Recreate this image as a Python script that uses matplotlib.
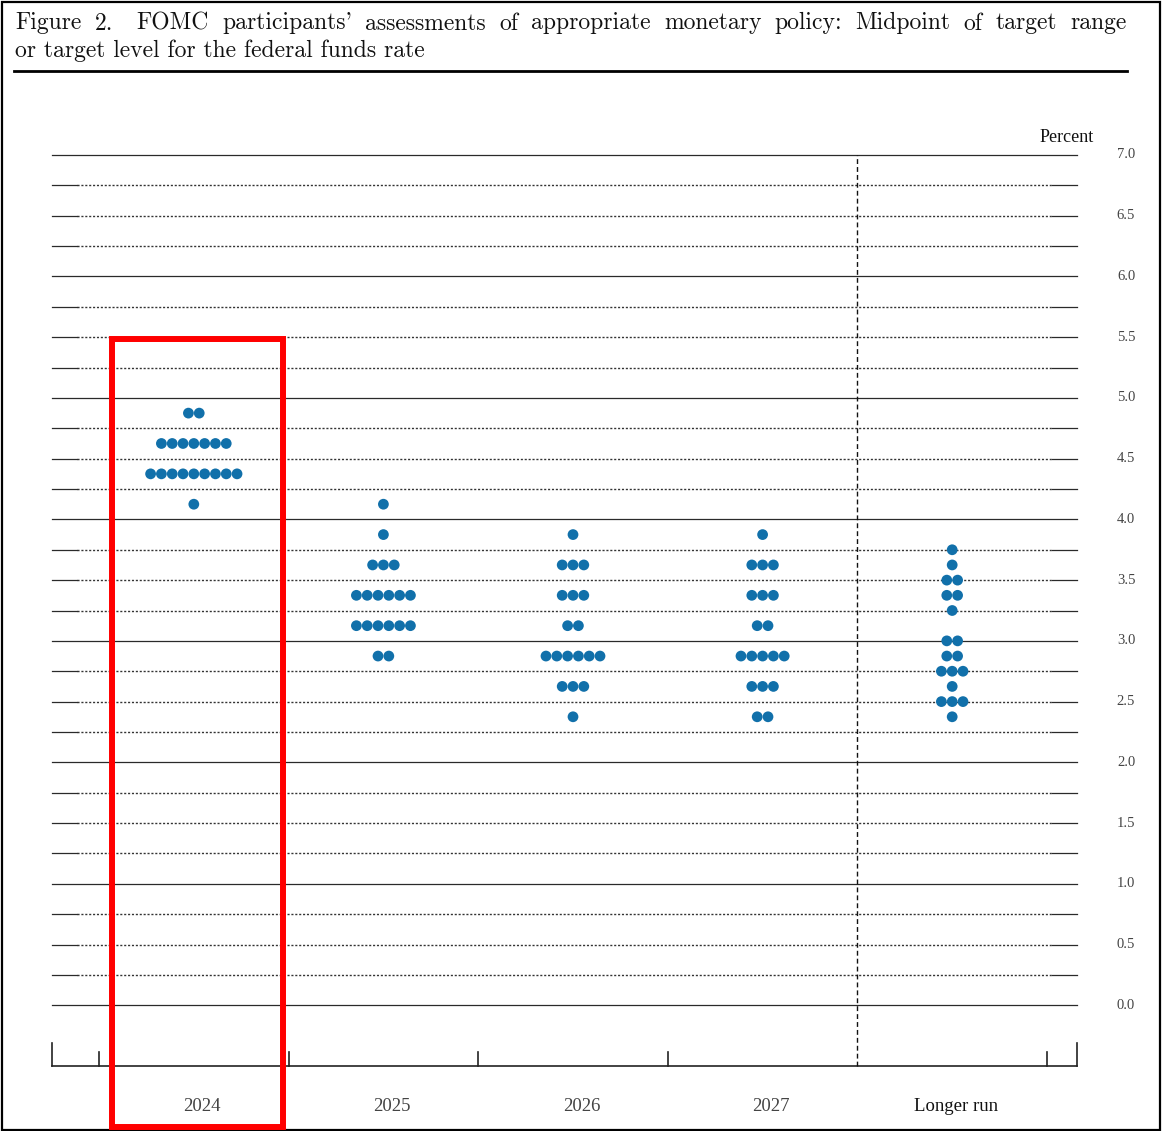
import numpy as np
import matplotlib
matplotlib.use('Agg')
import matplotlib.pyplot as plt
from matplotlib.patches import Rectangle
from matplotlib.lines import Line2D

# dot plot data: for each column, (rate midpoint, number of participants)
categories = ['2024', '2025', '2026', '2027', 'Longer run']
levels_2024 = [4.875, 4.625, 4.375, 4.125]
counts_2024 = [2, 7, 9, 1]
levels_2025 = [4.125, 3.875, 3.625, 3.375, 3.125, 2.875]
counts_2025 = [1, 1, 3, 6, 6, 2]
levels_2026 = [3.875, 3.625, 3.375, 3.125, 2.875, 2.625, 2.375]
counts_2026 = [1, 3, 3, 2, 6, 3, 1]
levels_2027 = [3.875, 3.625, 3.375, 3.125, 2.875, 2.625, 2.375]
counts_2027 = [1, 3, 3, 2, 5, 3, 2]
levels_lr = [3.75, 3.625, 3.5, 3.375, 3.25, 3.0, 2.875, 2.75, 2.625, 2.5, 2.375]
counts_lr = [1, 1, 2, 2, 1, 2, 2, 3, 1, 3, 1]
yticks = np.arange(0, 7.01, 0.5)

all_levels = [levels_2024, levels_2025, levels_2026, levels_2027, levels_lr]
all_counts = [counts_2024, counts_2025, counts_2026, counts_2027, counts_lr]

W, H = 1164, 1131
fig = plt.figure(figsize=(W / 100, H / 100), dpi=100)
fig.patch.set_facecolor('white')

# axes box in pixels: x 52..1077, y 155 (7.0) .. 1066 (-0.5)
ax = fig.add_axes([52 / W, (H - 1066) / H, 1025 / W, (1066 - 155) / H])
x0 = 0.5 - 47 / 189.5
x1 = 5.5 + 30 / 189.5
ax.set_xlim(x0, x1)
ax.set_ylim(-0.5, 7.0)
ax.axis('off')

serif = ['Liberation Serif', 'DejaVu Serif']
px_x = 1 / 189.5
px_y = 1 / 121.4

# horizontal grid
for v in np.arange(0, 7.01, 0.25):
    if abs(v - round(v)) < 1e-9:
        ax.plot([x0, x1], [v, v], color='#2a2a2a', lw=0.9, clip_on=False, zorder=1)
    else:
        ax.plot([x0 + 25 * px_x, x1 - 25 * px_x], [v, v], color='#333333', lw=1.0,
                dashes=(1.5, 1.3), clip_on=False, zorder=1)
        ax.plot([x0, x0 + 25 * px_x], [v, v], color='#2a2a2a', lw=0.9, clip_on=False, zorder=1)
        ax.plot([x1 - 25 * px_x, x1], [v, v], color='#2a2a2a', lw=0.9, clip_on=False, zorder=1)

# bottom axis with ticks
ax.plot([x0, x1], [-0.5, -0.5], color='#222222', lw=1.2, clip_on=False)
for xe in [x0, x1]:
    ax.plot([xe, xe], [-0.5, -0.5 + 23 * px_y], color='#222222', lw=1.2, clip_on=False)
for xt in [0.5, 1.5, 2.5, 3.5, 5.5]:
    ax.plot([xt, xt], [-0.5, -0.5 + 14 * px_y], color='#222222', lw=1.2, clip_on=False)
ax.plot([4.5, 4.5], [-0.5, 7.0], color='#111111', lw=1.0, dashes=(3.5, 2.2), clip_on=False)

# dots
step = 10.8 * px_x
for i, (lev, cnt) in enumerate(zip(all_levels, all_counts)):
    xc = i + 1
    for y, n in zip(lev, cnt):
        xs = xc + (np.arange(n) - (n - 1) / 2) * step
        ax.scatter(xs, [y] * n, s=60, color='#1170aa', edgecolors='none', zorder=3, clip_on=False)

# right side labels
for v in yticks:
    ax.text(5.5 + (1126 - 1047) * px_x, v, '%.1f' % v, ha='center', va='center',
            fontsize=10.5, color='#444444', family=serif, clip_on=False)
ax.text(5.5 + (1094 - 1047) * px_x, 7.0 + 17 * px_y, 'Percent', ha='right', va='center',
        fontsize=13, color='#111111', family=serif)

# category labels
for i, c in enumerate(categories):
    if c == 'Longer run':
        ax.text(i + 1.02, -0.5 - 40 * px_y, c, ha='center', va='center', fontsize=13.5,
                color='#111111', family=serif)
    else:
        ax.text(i + 1.045, -0.5 - 40 * px_y, c, ha='center', va='center', fontsize=13.5,
                color='#444444', family=serif)

# title, first line justified like the TeX original
title1 = "Figure 2.  FOMC participants' assessments of appropriate monetary policy: Midpoint of target range"
title2 = "or target level for the federal funds rate"
tfont = ['cmr10', 'DejaVu Serif']
tsize = 17
renderer = fig.canvas.get_renderer()
words = title1.replace('  ', ' ').split(' ')
texts = [fig.text(0, 1 - 29.5 / H, w, fontsize=tsize, family=tfont, va='baseline', color='#111111')
         for w in words]
widths = [t.get_window_extent(renderer).width for t in texts]
# wider gap after the sentence-ending "2."
weights = [1.0, 1.8] + [1.0] * (len(words) - 3)
gap = (1127 - 15 - sum(widths)) / sum(weights)
xpos = 15
for t, wd, k in zip(texts, widths, weights + [0]):
    t.set_x(xpos / W)
    xpos += wd + gap * k
fig.text(15 / W, 1 - 56.8 / H, title2, fontsize=tsize, family=tfont, va='baseline', color='#111111')

fig.add_artist(Line2D([14 / W, 1127 / W], [1 - 71.3 / H, 1 - 71.3 / H], color='black', lw=2.0))

# outer frame and highlight box
fig.add_artist(Rectangle((1.5 / W, 1.5 / H), (W - 6) / W, (H - 3.5) / H, fill=False,
                         edgecolor='black', lw=1.6, transform=fig.transFigure))
fig.add_artist(Rectangle((112.3 / W, (H - 1127) / H), (283 - 112.3) / W, (1127 - 339) / H,
                         fill=False, edgecolor='#ff0000', lw=4.3, transform=fig.transFigure))

fig.savefig('out.png', dpi=100)
